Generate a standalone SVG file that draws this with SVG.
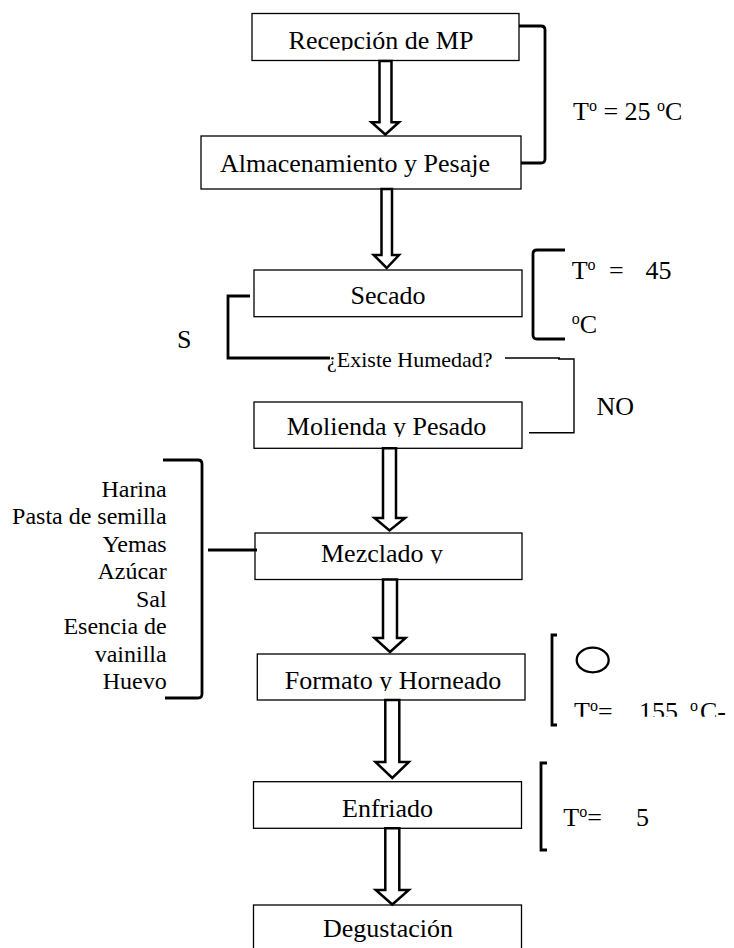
<svg xmlns="http://www.w3.org/2000/svg" width="734" height="948" viewBox="0 0 734 948">
<style>
.box{fill:#fff;stroke:#000;stroke-width:1.3}
.t{font-family:"Liberation Serif","Times New Roman",serif;font-size:26px;fill:#000}
.sm{font-size:22px}
.ing{font-size:24px;text-anchor:end}
.sup{font-size:16px}
.arrow{fill:#fff;stroke:#000;stroke-width:2.5;stroke-linejoin:miter}
.br{fill:none;stroke:#000;stroke-width:2.8}
.ln{fill:none;stroke:#000;stroke-width:1.4}
</style>
<defs>
<clipPath id="c1"><rect x="252" y="14" width="267" height="36.5"/></clipPath>
<clipPath id="c4"><rect x="254" y="402" width="268" height="35"/></clipPath>
<clipPath id="c5"><rect x="255" y="533" width="267" height="30.5"/></clipPath>
<clipPath id="c6"><rect x="257" y="654" width="268" height="37"/></clipPath>
<clipPath id="c7"><rect x="560" y="630" width="174" height="86.8"/></clipPath>
</defs>

<g id="n-recepcion">
<rect class="box" x="252" y="13.5" width="267" height="47"/>
<text class="t" x="381" y="49.3" text-anchor="middle" clip-path="url(#c1)">Recepción de MP</text>
</g>
<g id="n-almacenamiento">
<rect class="box" x="201" y="136" width="320" height="53"/>
<text class="t" x="355" y="171.7" text-anchor="middle">Almacenamiento y Pesaje</text>
</g>
<g id="n-secado">
<rect class="box" x="254" y="270" width="268" height="46.7"/>
<text class="t" x="388" y="304.3" text-anchor="middle">Secado</text>
</g>
<g id="n-decision">
<text class="t sm" x="327" y="366.7">¿Existe Humedad?</text>
</g>
<g id="n-molienda">
<rect class="box" x="254" y="402" width="268" height="46.3"/>
<text class="t" x="386.5" y="435" text-anchor="middle" clip-path="url(#c4)">Molienda y Pesado</text>
</g>
<g id="n-mezclado">
<rect class="box" x="255" y="533" width="267" height="46.5"/>
<text class="t" x="382" y="561.7" text-anchor="middle" clip-path="url(#c5)">Mezclado y</text>
</g>
<g id="n-formato">
<rect class="box" x="257.3" y="654" width="267.7" height="46"/>
<text class="t" x="393" y="689" text-anchor="middle" clip-path="url(#c6)">Formato y Horneado</text>
</g>
<g id="n-enfriado">
<rect class="box" x="253.5" y="781.7" width="268" height="46.6"/>
<text class="t" x="387.5" y="816.7" text-anchor="middle">Enfriado</text>
</g>
<g id="n-degustacion">
<rect class="box" x="253.5" y="905" width="268" height="60"/>
<text class="t" x="388" y="937" text-anchor="middle">Degustación</text>
</g>

<g id="n-ingredientes">
<text class="t ing" x="166.7" y="496.7">Harina</text>
<text class="t ing" x="166.7" y="524.2">Pasta de semilla</text>
<text class="t ing" x="166.7" y="551.7">Yemas</text>
<text class="t ing" x="166.7" y="579.2">Azúcar</text>
<text class="t ing" x="166.7" y="606.7">Sal</text>
<text class="t ing" x="166.7" y="634.2">Esencia de</text>
<text class="t ing" x="166.7" y="661.7">vainilla</text>
<text class="t ing" x="166.7" y="689.2">Huevo</text>
</g>

<g id="annotations">
<text class="t" x="573" y="120">T<tspan class="sup" dy="-9">o</tspan><tspan dy="9"> = 25 </tspan><tspan class="sup" dy="-9">o</tspan><tspan dy="9">C</tspan></text>
<text class="t" x="571.7" y="279.3">T<tspan class="sup" dy="-9">o</tspan><tspan x="609" dy="9">=</tspan><tspan x="645.5">45</tspan></text>
<text class="t" x="571.7" y="333.3"><tspan class="sup" dy="-9">o</tspan><tspan dy="9">C</tspan></text>
<text class="t" x="177" y="348.3">S</text>
<text class="t" x="596.5" y="415">NO</text>
<ellipse cx="592.7" cy="660" rx="16" ry="12.3" fill="none" stroke="#000" stroke-width="2.3"/>
<text class="t" x="574" y="719.5" clip-path="url(#c7)">T<tspan class="sup" dy="-9">o</tspan><tspan dy="9">=</tspan><tspan x="639">155</tspan><tspan class="sup" x="690" dy="-9">o</tspan><tspan x="700" dy="9">C-</tspan></text>
<text class="t" x="563.3" y="826">T<tspan class="sup" dy="-9">o</tspan><tspan dy="9">=</tspan><tspan x="636">5</tspan></text>
</g>

<g id="connectors">
<polygon class="arrow" points="379.5,61 391.5,61 391.5,122.3 399,122.3 385.3,134.5 371.5,122.3 379.5,122.3"/>
<polygon class="arrow" points="381.5,189 392,189 392,255 399,255 386.7,268 373.7,255 381.5,255"/>
<polygon class="arrow" points="383,448.3 396,448.3 396,518 405,518 389.5,530.5 374.5,518 383,518"/>
<polygon class="arrow" points="383,579.5 397,579.5 397,638 405.5,638 390,652 374.5,638 383,638"/>
<polygon class="arrow" points="385.3,700 399.3,700 399.3,762 408.8,762 392.3,778 375.5,762 385.3,762"/>
<polygon class="arrow" points="385.3,828.3 399.3,828.3 399.3,890 408.8,890 392.3,904.5 375.8,890 385.3,890"/>
<path class="br" d="M519,26 L541,26 Q545,26 545,30 L545,159 Q545,163 541,163 L521,163"/>
<path class="br" d="M565,250 L537,250 Q533,250 533,254 L533,335 Q533,339 537,339 L565,339"/>
<path class="br" d="M250,296 L228,296 L228,358 L330,358"/>
<path class="ln" d="M505,358 L560,358 M558,359 L574,359 L574,432.7 L529,432.7"/>
<path class="br" d="M163,460 L198,460 Q202,460 202,464 L202,694 Q202,698 198,698 L165,698"/>
<path class="br" d="M208,550 L257,550"/>
<path class="br" d="M557,635 L552,635 L552,725 L557,725"/>
<path class="br" d="M547,763 L541,763 L541,850 L547,850"/>
</g>
</svg>
